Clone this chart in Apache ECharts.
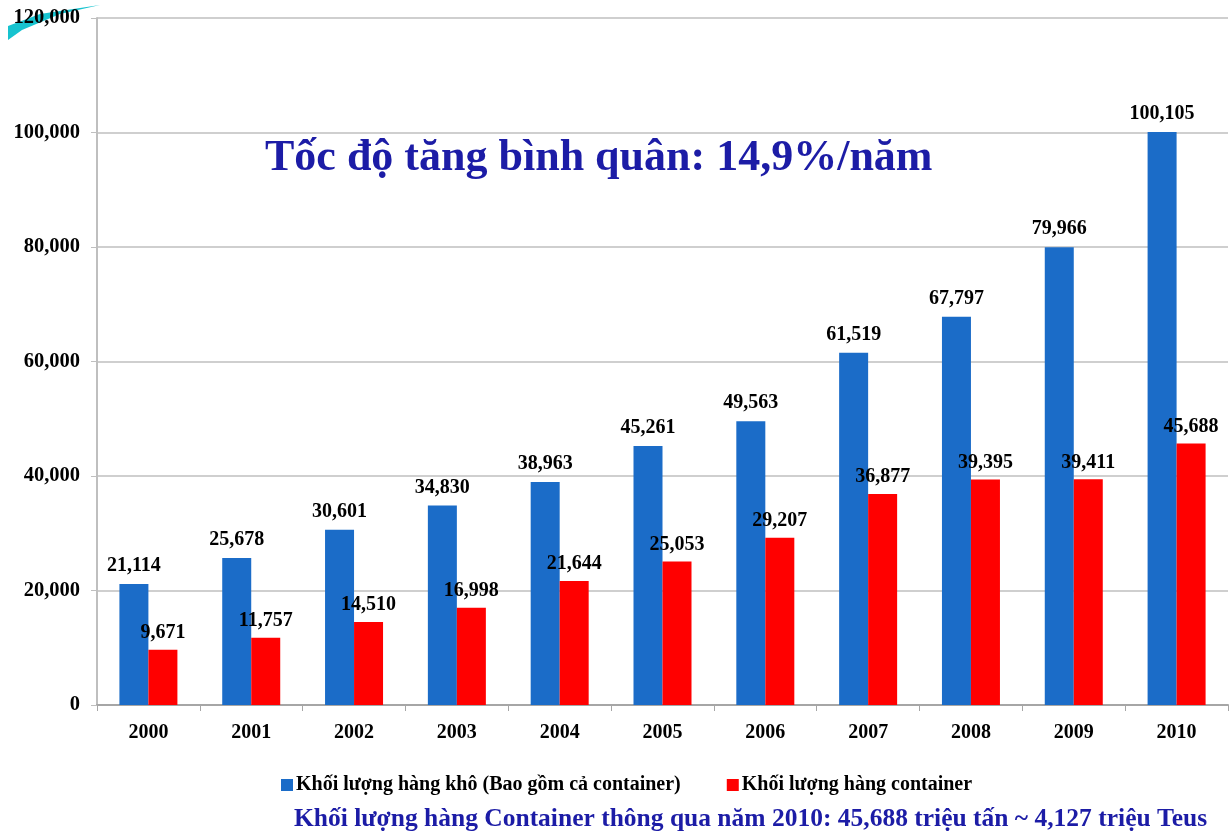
<!DOCTYPE html>
<html>
<head>
<meta charset="utf-8">
<script src="https://cdn.jsdelivr.net/npm/echarts@6/dist/echarts.min.js"></script>
<style>
  html, body { margin: 0; padding: 0; background: #fff; }
  #chart { width: 1230px; height: 836px; }
</style>
</head>
<body>
<div id="chart"></div>
<script>
// năm
const years = ['2000', '2001', '2002', '2003', '2004', '2005', '2006', '2007', '2008', '2009', '2010'];
// Khối lượng hàng khô (Bao gồm cả container)
const dryCargo = [21114, 25678, 30601, 34830, 38963, 45261, 49563, 61519, 67797, 79966, 100105];
// Khối lượng hàng container
const containerCargo = [9671, 11757, 14510, 16998, 21644, 25053, 29207, 36877, 39395, 39411, 45688];

const seriesNames = ['Khối lượng hàng khô (Bao gồm cả container)', 'Khối lượng hàng container'];

const serif = '"Liberation Serif", "DejaVu Serif", serif';
const fmt = v => v.toLocaleString('en-US');

const chart = echarts.init(document.getElementById('chart'));

const option = {
    animation: false,
    backgroundColor: '#fff',
    textStyle: { fontFamily: serif },
    grid: {
        left: 97,
        right: 2,
        top: 18,
        bottom: 131,
        containLabel: false
    },
    title: [{
        text: 'Tốc độ tăng bình quân: 14,9%/năm',
        left: 260,
        top: 132,
        textStyle: { fontFamily: serif, fontSize: 44, fontWeight: 'bold', color: '#1c1ca6' }
    }, {
        text: 'Khối lượng hàng Container thông qua năm 2010: 45,688 triệu tấn ~ 4,127 triệu Teus',
        left: 289,
        top: 801,
        textStyle: { fontFamily: serif, fontSize: 25.5, fontWeight: 'bold', color: '#1c1ca6' }
    }],
    legend: {
        left: 276,
        top: 770,
        itemWidth: 12,
        itemHeight: 12,
        itemGap: 46,
        icon: 'rect',
        textStyle: { fontFamily: serif, fontSize: 20, fontWeight: 'bold', color: '#000', padding: [0, 0, 0, -2] },
        data: seriesNames
    },
    xAxis: {
        type: 'category',
        data: years,
        axisLine: { lineStyle: { color: '#a6a6a6', width: 2 } },
        axisTick: { show: true, alignWithLabel: false, length: 6, lineStyle: { color: '#a6a6a6' } },
        axisLabel: { fontFamily: serif, fontSize: 20, fontWeight: 'bold', color: '#000', margin: 18 }
    },
    yAxis: {
        type: 'value',
        min: 0,
        max: 120000,
        interval: 20000,
        axisLine: { show: true, lineStyle: { color: '#bfbfbf', width: 2 } },
        axisTick: { show: true, length: 6, lineStyle: { color: '#bfbfbf' } },
        splitLine: { lineStyle: { color: '#bfbfbf', width: 1.5 } },
        axisLabel: { fontFamily: serif, fontSize: 20.5, fontWeight: 'bold', color: '#000', margin: 17, formatter: fmt }
    },
    series: [{
        name: seriesNames[0],
        type: 'bar',
        data: dryCargo,
        barWidth: 29,
        barGap: '0%',
        itemStyle: { color: '#1b6cc8' },
        label: {
            show: true,
            position: 'top',
            distance: 8,
            formatter: p => fmt(p.value),
            fontFamily: serif,
            fontSize: 20,
            fontWeight: 'bold',
            color: '#000'
        }
    }, {
        name: seriesNames[1],
        type: 'bar',
        data: containerCargo,
        barWidth: 29,
        barGap: '0%',
        itemStyle: { color: '#ff0000' },
        label: {
            show: true,
            position: 'top',
            distance: 7,
            formatter: p => fmt(p.value),
            fontFamily: serif,
            fontSize: 20,
            fontWeight: 'bold',
            color: '#000'
        }
    }],
    graphic: [{
        type: 'polygon',
        z: -1,
        shape: { points: [[8, 26], [40, 14], [100, 5], [60, 14], [22, 30], [8, 40]] },
        style: { fill: '#17c3cf' }
    }]
};

chart.setOption(option);
</script>
</body>
</html>
